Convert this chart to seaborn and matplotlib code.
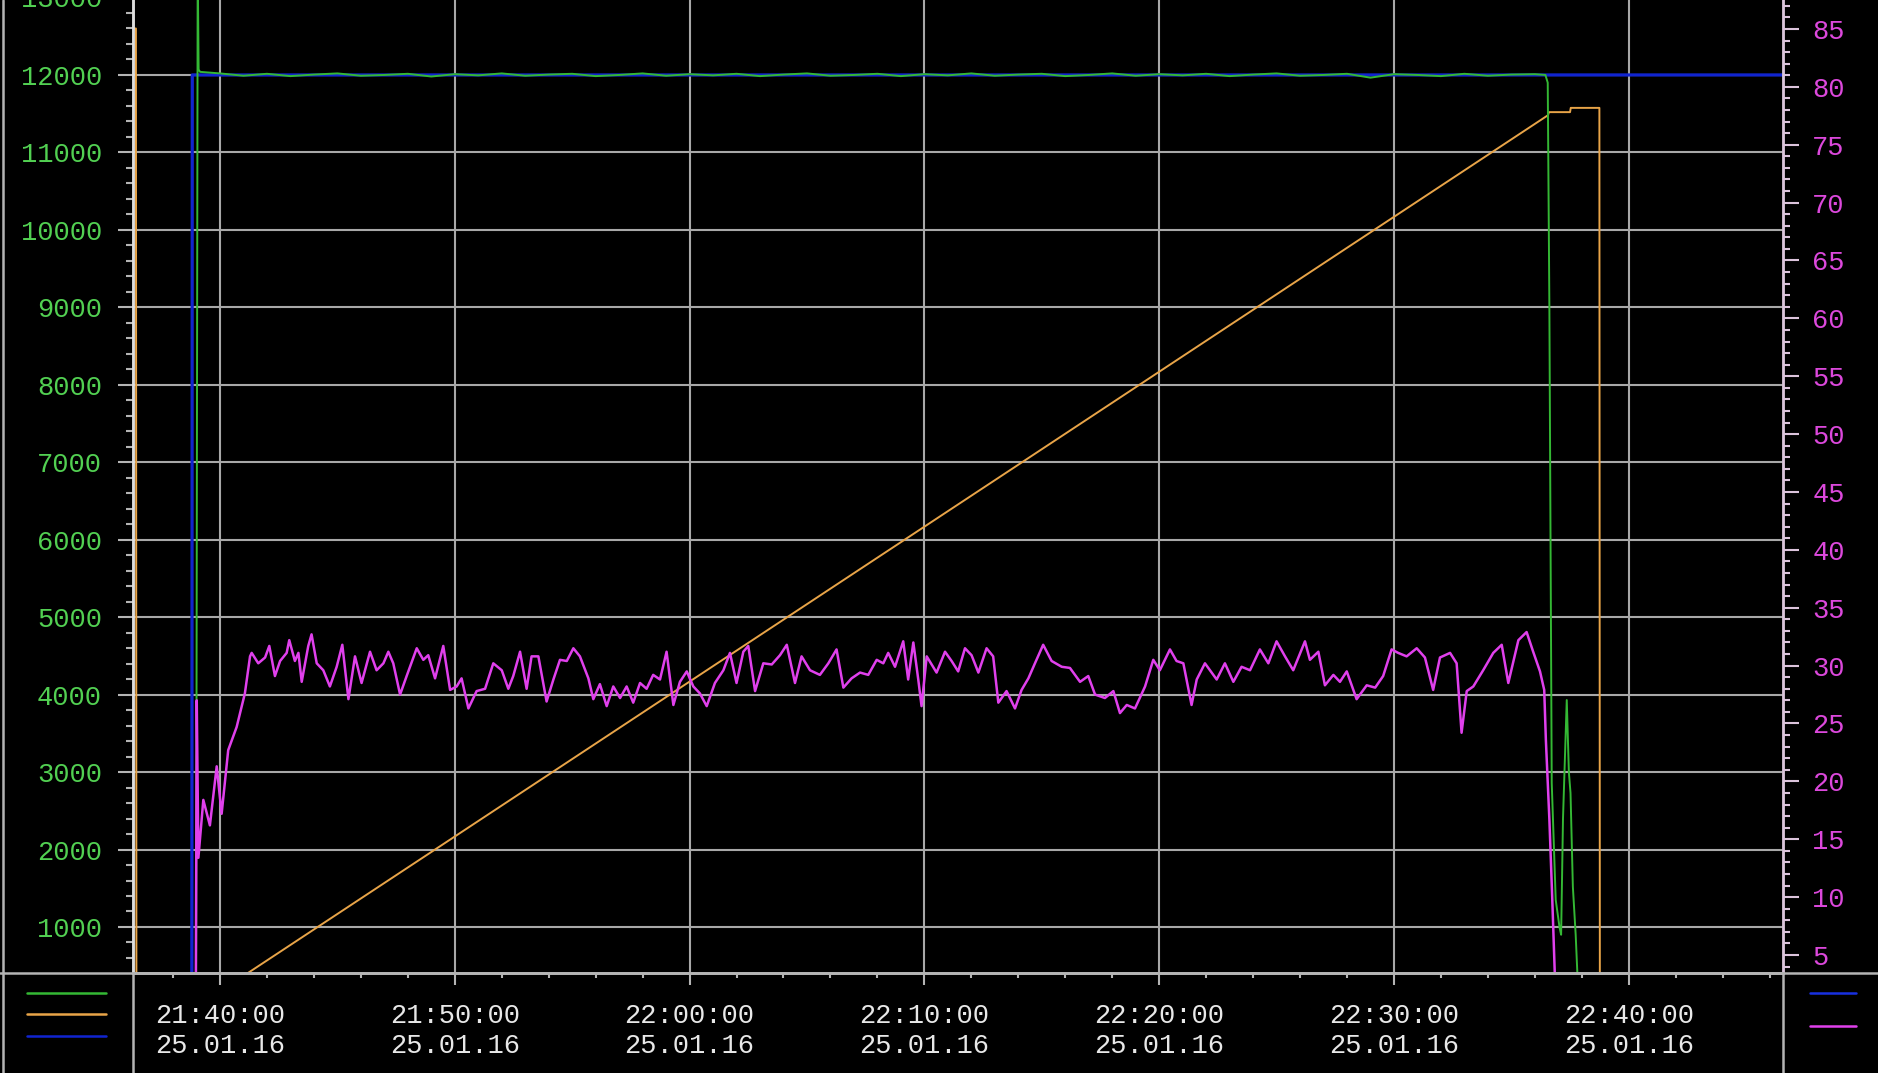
import numpy as np
import pandas as pd
import matplotlib
matplotlib.use("Agg")
import matplotlib.pyplot as plt
import matplotlib.dates as mdates
from matplotlib.lines import Line2D
from matplotlib.ticker import MultipleLocator
import seaborn as sns

# ==========================================
# Data (time in minutes relative to 25.01.16 21:40:00)
# ==========================================
T0 = pd.Timestamp("2016-01-25 21:40:00")
X_MIN, X_MAX = -3.705, 66.57

# speed setpoint (dark blue, left axis)
setpoint_min = [X_MIN, -1.20, -1.18, X_MAX]
setpoint_val = [0, 0, 12000, 12000]

# actual speed (green, left axis)
speed_min = [X_MIN, -1.02, -0.95, -0.91, -0.85,
             0, 1, 2, 3, 4, 5, 6, 7, 8, 9,
             10, 11, 12, 13, 14, 15, 16, 17, 18, 19,
             20, 21, 22, 23, 24, 25, 26, 27, 28, 29,
             30, 31, 32, 33, 34, 35, 36, 37, 38, 39,
             40, 41, 42, 43, 44, 45, 46, 47, 48, 49,
             50, 51, 52, 53, 54, 55, 56,
             56.45, 56.55, 56.62, 56.72, 56.89, 57.05, 57.12, 57.20, 57.36, 57.45, 57.52,
             57.62, 57.74, 57.87, X_MAX]
speed_val = [0, 0, 13400, 12070, 12040,
             12020, 11990, 12015, 11985, 12005, 12020, 11990, 12000, 12015, 11980,
             12010, 11995, 12020, 11990, 12005, 12015, 11985, 12000, 12020, 11990,
             12010, 11995, 12015, 11985, 12005, 12020, 11990, 12000, 12015, 11985,
             12010, 11995, 12020, 11990, 12005, 12015, 11985, 12000, 12020, 11990,
             12010, 11995, 12015, 11985, 12005, 12020, 11990, 12000, 12015, 11965,
             12010, 12000, 11985, 12015, 11990, 12005, 12010,
             12000, 11900, 9000, 2860, 1350, 1000, 900, 2400, 3930, 3000, 2730,
             1520, 900, 0, 0]

# ramp (orange, left axis)
ramp_min = [X_MIN, -3.58, -3.56, -0.84, 56.56, 56.60, 57.50, 57.53, 58.75, 58.77, X_MAX]
ramp_val = [12600, 12600, 0, 0, 11480, 11520, 11520, 11575, 11575, 0, 0]

# magenta trace (right axis)
trace_min = [-1.03, -0.99, -0.92, -0.71, -0.43, -0.14, 0.07, 0.35, 0.71, 1.06, 1.28,
             1.35, 1.63, 1.92, 2.10, 2.34, 2.56, 2.84, 2.95, 3.19, 3.34, 3.48, 3.76, 3.90,
             4.12, 4.40, 4.68, 4.97, 5.21, 5.47, 5.75, 6.03, 6.39, 6.67, 6.96, 7.17, 7.38,
             7.67, 7.95, 8.38, 8.66, 8.87, 9.16, 9.51, 9.80, 10.08, 10.29, 10.58,
             10.93, 11.29, 11.64, 12.00, 12.28, 12.49, 12.78, 13.06, 13.27, 13.56, 13.91,
             14.20, 14.48, 14.77, 15.05, 15.33, 15.69, 15.90, 16.18, 16.47, 16.75, 17.04,
             17.32, 17.60, 17.89, 18.17, 18.45, 18.74, 19.02, 19.31, 19.59, 19.88, 20.16,
             20.44, 20.73, 21.08, 21.44, 21.72, 22.00, 22.29, 22.50,
             22.79, 23.14, 23.50, 23.85, 24.14, 24.49, 24.77, 25.13, 25.55, 25.91, 26.26,
             26.55, 26.90, 27.26, 27.61, 27.97, 28.25, 28.46, 28.75, 29.10, 29.31, 29.53,
             29.74, 29.88, 30.10, 30.52, 30.88, 31.16, 31.44, 31.73, 32.01, 32.30, 32.65,
             32.93, 33.15, 33.50, 33.86, 34.14,
             34.43, 34.71, 35.06, 35.42, 35.85, 36.20, 36.63, 36.98, 37.27, 37.69, 38.05,
             38.33, 38.62, 38.97, 39.40, 39.75, 40.03, 40.46, 40.74, 41.03, 41.38, 41.60,
             41.95, 42.45, 42.80, 43.16, 43.51, 43.87, 44.29, 44.65, 45.00, 45.36, 45.71,
             46.21,
             46.42, 46.78, 47.06, 47.42, 47.70, 47.99, 48.41, 48.84, 49.20, 49.54, 49.90,
             50.18, 50.54, 50.97, 51.32, 51.67, 51.96, 52.39, 52.67, 52.88, 53.10, 53.38,
             53.80, 54.23, 54.59, 54.87, 55.30, 55.65, 55.93, 56.22, 56.40, 56.47, 56.62,
             56.74, 56.85, 56.95, X_MAX]
trace_val = [1.0, 27.0, 13.4, 18.4, 16.2, 21.3, 17.2, 22.7, 24.7, 27.6, 30.8,
             31.1, 30.2, 30.7, 31.7, 29.1, 30.4, 31.1, 32.2, 30.4, 31.1, 28.6, 31.7, 32.7,
             30.2, 29.6, 28.2, 29.9, 31.8, 27.1, 30.8, 28.5, 31.2, 29.6, 30.2, 31.2, 30.2,
             27.5, 29.1, 31.5, 30.5, 30.9, 28.9, 31.7, 27.9, 28.2, 28.9, 26.3,
             27.8, 28.0, 30.2, 29.6, 28.0, 29.1, 31.2, 28.0, 30.8, 30.8, 26.9,
             28.8, 30.5, 30.4, 31.5, 30.8, 28.9, 27.1, 28.4, 26.5, 28.2, 27.2,
             28.2, 26.8, 28.5, 28.0, 29.2, 28.8, 31.2, 26.6, 28.6, 29.5, 28.2,
             27.6, 26.5, 28.5, 29.6, 31.1, 28.5, 31.2, 31.7,
             27.8, 30.2, 30.1, 30.9, 31.8, 28.5, 30.8, 29.6, 29.2, 30.2, 31.4,
             28.1, 28.9, 29.4, 29.2, 30.5, 30.2, 31.1, 29.9, 32.1, 28.8, 32.0,
             28.8, 26.5, 30.8, 29.4, 31.2, 30.4, 29.5, 31.5, 30.9, 29.4, 31.5,
             30.8, 26.8, 27.8, 26.3, 27.9,
             28.9, 30.2, 31.8, 30.4, 29.9, 29.8, 28.6, 29.1, 27.5, 27.2, 27.8,
             25.9, 26.6, 26.3, 28.2, 30.5, 29.6, 31.4, 30.4, 30.2, 26.6, 28.8,
             30.2, 28.8, 30.2, 28.6, 29.9, 29.6, 31.4, 30.2, 32.1, 30.8, 29.6,
             32.1,
             30.5, 31.2, 28.3, 29.2, 28.6, 29.5, 27.1, 28.3, 28.1, 29.1, 31.4,
             31.1, 30.8, 31.5, 30.7, 27.9, 30.7, 31.1, 30.2, 24.2, 27.8, 28.2,
             29.6, 31.1, 31.8, 28.5, 32.2, 32.9, 31.2, 29.5, 27.9, 23.6, 16.7,
             10.0, 3.4, 1.0, 1.0]

LEFT_LIM = (406, 13000)
RIGHT_LIM = (3.445, 87.72)

# ==========================================
# Style
# ==========================================
sns.set_style("ticks")
plt.rcParams['font.family'] = ['Liberation Mono', 'DejaVu Sans Mono']
plt.rcParams['font.size'] = 19.5

BG = 'black'
GRID = '#a8a8a8'
FRAME = '#b4b4b4'
GREEN_TXT = '#52d052'
MAG_TXT = '#dc48dc'

W, H = 1878, 1073


def tm(minutes):
    return T0 + pd.to_timedelta(np.asarray(minutes, dtype=float), unit='min')


fig = plt.figure(figsize=(W / 100, H / 100), dpi=100, facecolor=BG)
ax = fig.add_axes([133 / W, 100 / H, 1650 / W, 975.5 / H])
ax.set_facecolor(BG)
ax2 = ax.twinx()
ax2.patch.set_visible(False)

# left axis series
sns.lineplot(x=tm(setpoint_min), y=setpoint_val, ax=ax, color='#1024d0', linewidth=2.3,
             estimator=None, sort=False, legend=False)
sns.lineplot(x=tm(ramp_min), y=ramp_val, ax=ax, color='#e8a448', linewidth=1.4,
             estimator=None, sort=False, legend=False)
sns.lineplot(x=tm(speed_min), y=speed_val, ax=ax, color='#34b834', linewidth=1.4,
             estimator=None, sort=False, legend=False)
# right axis series
sns.lineplot(x=tm(trace_min), y=trace_val, ax=ax2, color='#e040ec', linewidth=1.8,
             estimator=None, sort=False, legend=False)

ax.set_xlim(tm([X_MIN])[0], tm([X_MAX])[0])
ax.set_ylim(*LEFT_LIM)
ax2.set_ylim(*RIGHT_LIM)
for a in (ax, ax2):
    a.set_xlabel("")
    a.set_ylabel("")

# x axis: major 10 min, minor 2 min
ax.xaxis.set_major_locator(mdates.MinuteLocator(byminute=range(0, 60, 10)))
ax.xaxis.set_minor_locator(mdates.MinuteLocator(byminute=range(0, 60, 2)))
ax.xaxis.set_major_formatter(mdates.DateFormatter("%H:%M:%S\n%d.%m.%y"))
ax.tick_params(axis='x', which='major', length=8.6, width=1.5, color=FRAME,
               labelcolor='#e8e8e8', pad=13, labelsize=19.5)
ax.tick_params(axis='x', which='minor', length=3.6, width=1.5, color=FRAME)

# left axis
ax.yaxis.set_major_locator(MultipleLocator(1000))
ax.yaxis.set_minor_locator(MultipleLocator(200))
ax.tick_params(axis='y', which='major', length=10.8, width=1.5, color=FRAME,
               labelcolor=GREEN_TXT, pad=11.5, labelsize=19.5)
ax.tick_params(axis='y', which='minor', length=5, width=1.5, color=FRAME)

# right axis
ax2.yaxis.set_major_locator(MultipleLocator(5))
ax2.yaxis.set_minor_locator(MultipleLocator(1))
ax2.tick_params(axis='y', which='major', length=11.5, width=1.5, color='#dcc4dc',
                labelcolor=MAG_TXT, pad=9.5, labelsize=19.5)
ax2.tick_params(axis='y', which='minor', length=5, width=1.5, color='#dcc4dc')

ax.grid(True, which='major', color=GRID, linewidth=1.5)
for a in (ax, ax2):
    for s in a.spines.values():
        s.set_color(FRAME)
        s.set_linewidth(1.8)
ax.spines['left'].set_color('#dedede')
ax2.spines['left'].set_color('#dedede')
ax2.spines['right'].set_color('#dcc4dc')

# frame of the bottom panel
yb = 100 / H
for seg in ([[0, 1], [yb, yb]],
            [[133 / W, 133 / W], [0, yb]],
            [[1783 / W, 1783 / W], [0, yb]],
            [[3 / W, 3 / W], [0, 1]]):
    fig.add_artist(Line2D(seg[0], seg[1], transform=fig.transFigure, color=FRAME, lw=1.8))

# legend line samples
for y, c in ((993, '#34b834'), (1014, '#e8a448'), (1036, '#1024d0')):
    fig.add_artist(Line2D([27 / W, 106 / W], [(H - y) / H] * 2, transform=fig.transFigure,
                          color=c, lw=1.8))
for y, c in ((993, '#1830e0'), (1026, '#e040ec')):
    fig.add_artist(Line2D([1810 / W, 1856 / W], [(H - y) / H] * 2, transform=fig.transFigure,
                          color=c, lw=1.8))

fig.savefig("out.png", dpi=100, facecolor=BG)
